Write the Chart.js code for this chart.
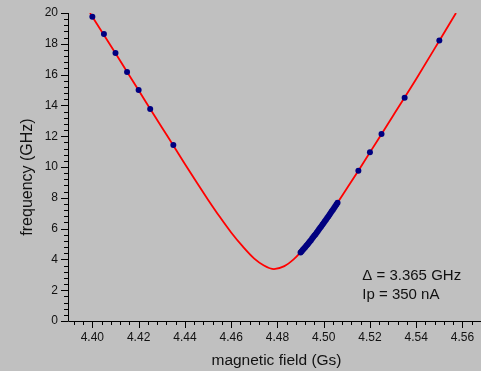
<!DOCTYPE html>
<html>
<head>
<meta charset="utf-8">
<script src="https://cdn.jsdelivr.net/npm/chart.js@4.4.1/dist/chart.umd.min.js"></script>
<style>
  html, body { margin: 0; padding: 0; background: #c0c0c0; }
  #plot { display: block; }
</style>
</head>
<body>
<canvas id="plot" width="481" height="371"></canvas>
<script>
// measured transition points: field (Gs) vs frequency (GHz)
const fieldPts = [
  4.400, 4.405, 4.410, 4.415, 4.420, 4.425, 4.435,
  4.4900, 4.4905, 4.4910, 4.4915, 4.4920, 4.4925, 4.4930, 4.4935, 4.4940, 4.4945, 4.4950,
  4.4955, 4.4960, 4.4965, 4.4970, 4.4975, 4.4980, 4.4985, 4.4990, 4.4995, 4.5000,
  4.5005, 4.5010, 4.5015, 4.5020, 4.5025, 4.5030, 4.5035, 4.5040, 4.5045, 4.5050, 4.5055, 4.5060,
  4.515, 4.520, 4.525, 4.535, 4.550
];
const freqPts = [
  19.76, 18.64, 17.40, 16.17, 15.00, 13.77, 11.43,
  4.45, 4.53, 4.62, 4.71, 4.79, 4.88, 4.97, 5.07, 5.16, 5.25, 5.35,
  5.45, 5.55, 5.64, 5.75, 5.85, 5.95, 6.05, 6.15, 6.26, 6.36,
  6.47, 6.58, 6.69, 6.79, 6.90, 7.01, 7.12, 7.23, 7.34, 7.45, 7.56, 7.68,
  9.76, 10.95, 12.15, 14.50, 18.22
];

// fitted anticrossing curve
const fitField = [
  4.399, 4.400, 4.410, 4.420, 4.430, 4.435, 4.440, 4.445, 4.450, 4.455, 4.460, 4.465,
  4.470, 4.474, 4.4785, 4.483, 4.487, 4.490, 4.495, 4.500, 4.505, 4.510, 4.515, 4.520,
  4.530, 4.540, 4.550, 4.5572
];
const fitFreq = [
  20.0, 19.76, 17.38, 14.98, 12.58, 11.40, 10.20, 9.02, 7.88, 6.78, 5.75, 4.84,
  4.05, 3.62, 3.37, 3.56, 4.00, 4.45, 5.35, 6.36, 7.45, 8.60, 9.76, 10.95,
  13.33, 15.72, 18.20, 20.0
];

const xTicks = [4.40, 4.42, 4.44, 4.46, 4.48, 4.50, 4.52, 4.54, 4.56];
const yTicks = [0, 2, 4, 6, 8, 10, 12, 14, 16, 18, 20];
const xTitle = 'magnetic field (Gs)';
const yTitle = 'frequency (GHz)';
const noteLines = ['\u0394 = 3.365 GHz', 'Ip = 350 nA'];

const FONT = 'Liberation Sans, Arial, sans-serif';
const INK = '#111';

// axis lines with major/minor tick marks drawn outward, axis titles, fit note
const axesPlugin = {
  id: 'axes',
  afterDraw(chart) {
    const { ctx, chartArea: a, scales: { x, y } } = chart;
    ctx.save();
    ctx.strokeStyle = '#000';
    ctx.lineWidth = 1;
    ctx.beginPath();
    ctx.moveTo(a.left + 0.5, y.getPixelForValue(20));
    ctx.lineTo(a.left + 0.5, a.bottom + 0.5);
    ctx.lineTo(chart.width, a.bottom + 0.5);
    // x ticks
    for (let i = 0; ; i++) {
      const v = 4.392 + i * 0.004;
      const px = Math.round(x.getPixelForValue(v)) + 0.5;
      if (px > chart.width) break;
      const major = Math.abs((v - 4.40) / 0.02 - Math.round((v - 4.40) / 0.02)) < 1e-6;
      ctx.moveTo(px, a.bottom);
      ctx.lineTo(px, a.bottom + (major ? 7 : 4));
    }
    // y ticks
    for (let i = 0; i <= 50; i++) {
      const v = i * 0.4;
      const py = Math.round(y.getPixelForValue(v)) + 0.5;
      const major = i % 5 === 0;
      ctx.moveTo(a.left, py);
      ctx.lineTo(a.left - (major ? 7 : 4), py);
    }
    ctx.stroke();

    ctx.fillStyle = INK;
    ctx.textAlign = 'center';
    ctx.textBaseline = 'middle';
    ctx.font = '15.5px ' + FONT;
    ctx.fillText(xTitle, 276.5, 360.5);
    ctx.save();
    ctx.translate(27.5, 177);
    ctx.rotate(-Math.PI / 2);
    ctx.font = '16px ' + FONT;
    ctx.fillText(yTitle, 0, 0);
    ctx.restore();

    // fit parameters
    ctx.textAlign = 'left';
    ctx.textBaseline = 'alphabetic';
    ctx.font = '15px ' + FONT;
    const tx = x.getPixelForValue(4.5167);
    const ty = y.getPixelForValue(2.66);
    noteLines.forEach((t, i) => ctx.fillText(t, tx, ty + i * 19.3));
    ctx.restore();
  }
};

new Chart(document.getElementById('plot'), {
  type: 'scatter',
  data: {
    datasets: [
      {
        label: 'fit',
        data: fitField.map((b, i) => ({ x: b, y: fitFreq[i] })),
        showLine: true,
        borderColor: '#ff0000',
        borderWidth: 1.8,
        pointRadius: 0,
        cubicInterpolationMode: 'monotone',
        order: 2
      },
      {
        label: 'data',
        data: fieldPts.map((b, i) => ({ x: b, y: freqPts[i] })),
        backgroundColor: '#000080',
        borderColor: '#000080',
        borderWidth: 0,
        pointRadius: 3,
        order: 1
      }
    ]
  },
  options: {
    responsive: false,
    animation: false,
    devicePixelRatio: 1,
    layout: { padding: { top: 13, right: 0, left: 0, bottom: 0 } },
    plugins: { legend: { display: false }, tooltip: { enabled: false } },
    scales: {
      x: {
        type: 'linear',
        min: 4.38947,
        max: 4.56628,
        afterBuildTicks: s => { s.ticks = xTicks.map(v => ({ value: v })); },
        afterFit: s => { s.height = 50; s.paddingLeft = 0; s.paddingRight = 0; },
        grid: { display: false, drawTicks: false },
        border: { display: false },
        ticks: {
          autoSkip: false, maxRotation: 0, padding: 9, color: INK,
          font: { family: FONT, size: 12 },
          callback: v => v.toFixed(2)
        }
      },
      y: {
        type: 'linear',
        min: 0,
        max: 20,
        afterBuildTicks: s => { s.ticks = yTicks.map(v => ({ value: v })); },
        afterFit: s => { s.width = 68; s.paddingTop = 0; s.paddingBottom = 0; },
        grid: { display: false, drawTicks: false },
        border: { display: false },
        ticks: {
          autoSkip: false, padding: 10, color: INK,
          font: { family: FONT, size: 12 },
          callback: v => String(v)
        }
      }
    }
  },
  plugins: [axesPlugin]
});
</script>
</body>
</html>
